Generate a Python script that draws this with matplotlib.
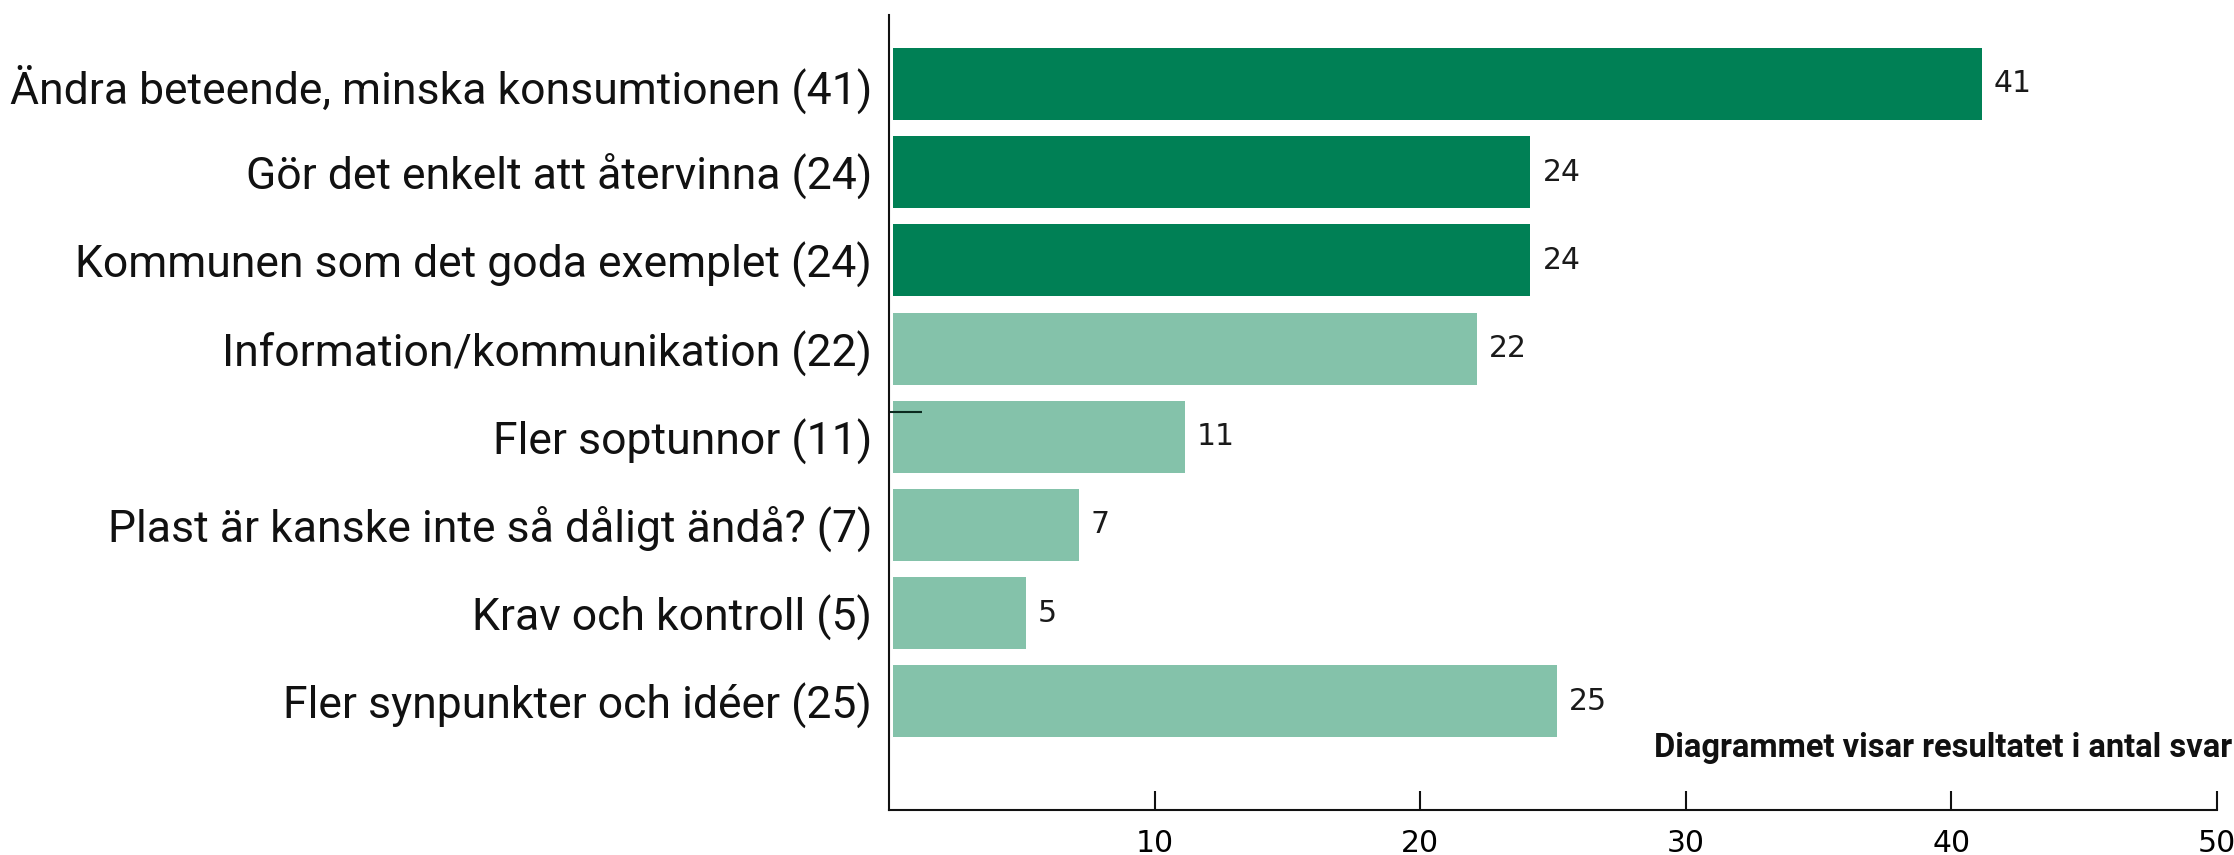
import matplotlib
matplotlib.use('Agg')
import matplotlib.pyplot as plt

categories = [
    'Ändra beteende, minska konsumtionen (41)',
    'Gör det enkelt att återvinna (24)',
    'Kommunen som det goda exemplet (24)',
    'Information/kommunikation (22)',
    'Fler soptunnor (11)',
    'Plast är kanske inte så dåligt ändå? (7)',
    'Krav och kontroll (5)',
    'Fler synpunkter och idéer (25)',
]
values = [41, 24, 24, 22, 11, 7, 5, 25]
highlight = [True, True, True, False, False, False, False, False]
x_ticks = [10, 20, 30, 40, 50]
note = 'Diagrammet visar resultatet i antal svar'

dark_green = '#008055'
light_green = '#84c2aa'
label_font = ['Roboto', 'DejaVu Sans']

def main():
    fig = plt.figure(figsize=(22.34, 8.55), dpi=100)
    ax = fig.add_axes([889 / 2234, 45 / 855, 1328 / 2234, 795 / 855])

    pos = list(range(len(categories)))
    colors = [dark_green if h else light_green for h in highlight]
    bar_offset = 0.15
    ax.barh(pos, values, height=0.816, left=bar_offset, color=colors)

    for p, v in zip(pos, values):
        ax.text(v + bar_offset + 0.45, p, str(v), va='center', ha='left',
                fontsize=21.5, family='DejaVu Sans', color='#1a1a1a')

    ax.set_xlim(0, 50)
    ax.set_ylim(8.232, -0.782)

    ax.set_yticks(pos)
    ax.set_yticklabels(categories, fontsize=32, family=label_font, color='#111111')
    ax.tick_params(axis='y', length=0, pad=12)

    # stray short mark on the y axis
    ax.set_yticks([3.72], minor=True)
    ax.tick_params(axis='y', which='minor', direction='in', length=24,
                   width=1.5, color='#0b2a1f')

    ax.set_xticks(x_ticks)
    ax.set_xticklabels([str(t) for t in x_ticks], fontsize=21.5, family='DejaVu Sans')
    ax.tick_params(axis='x', direction='in', length=14, width=1.5, pad=14, color='#111111')

    for side in ['top', 'right']:
        ax.spines[side].set_visible(False)
    for side in ['left', 'bottom']:
        ax.spines[side].set_linewidth(1.5)
        ax.spines[side].set_color('#111111')

    fig.text(2232 / 2234, 1 - 757 / 855, note, ha='right', va='baseline',
             fontsize=23.5, fontweight='bold', family=label_font, color='#111111')

    fig.savefig('out.png', dpi=100)

if __name__ == '__main__':
    main()
